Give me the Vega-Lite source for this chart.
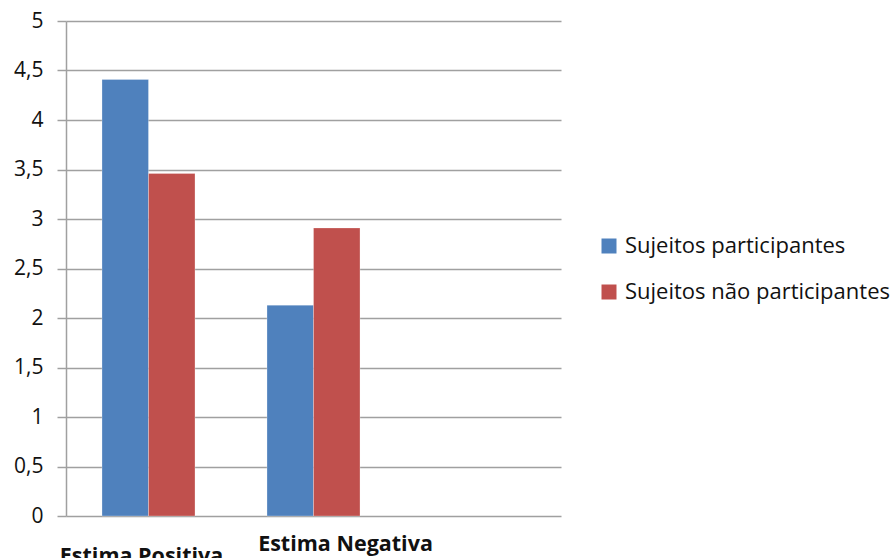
{
  "$schema": "https://vega.github.io/schema/vega-lite/v6.json",
  "width": 495,
  "height": 495,
  "autosize": "none",
  "padding": {"left": 66, "top": 21, "right": 333, "bottom": 42},
  "background": "#ffffff",
  "config": {
    "view": {"stroke": null},
    "font": "Open Sans"
  },
  "data": {
    "values": [
      {"categoria": "Estima Positiva", "grupo": "Sujeitos participantes", "valor": 4.41},
      {"categoria": "Estima Positiva", "grupo": "Sujeitos não participantes", "valor": 3.46},
      {"categoria": "Estima Negativa", "grupo": "Sujeitos participantes", "valor": 2.13},
      {"categoria": "Estima Negativa", "grupo": "Sujeitos não participantes", "valor": 2.91}
    ]
  },
  "mark": {"type": "bar", "stroke": "#ffffff", "strokeOpacity": 0.35, "strokeWidth": 0.8},
  "encoding": {
    "x": {
      "field": "categoria",
      "type": "nominal",
      "sort": null,
      "scale": {"domain": ["Estima Positiva", "Estima Negativa", " "], "paddingInner": 0, "paddingOuter": 0},
      "axis": {
        "title": null,
        "domain": false,
        "ticks": false,
        "labelAngle": 0,
        "labelFont": "Open Sans",
        "labelFontWeight": "bold",
        "labelFontSize": 21.5,
        "labelColor": "#111111",
        "labelBaseline": "alphabetic",
        "labelOffset": {"condition": {"test": "datum.value === 'Estima Negativa'", "value": 32}, "value": -7},
        "labelPadding": {"condition": {"test": "datum.value === 'Estima Negativa'", "value": 34}, "value": 46}
      }
    },
    "xOffset": {
      "field": "grupo",
      "type": "nominal",
      "sort": ["Sujeitos participantes", "Sujeitos não participantes"],
      "scale": {"paddingInner": 0, "paddingOuter": 0.774}
    },
    "y": {
      "field": "valor",
      "type": "quantitative",
      "scale": {"domain": [0, 5], "nice": false},
      "axis": {
        "title": null,
        "values": [0, 0.5, 1, 1.5, 2, 2.5, 3, 3.5, 4, 4.5, 5],
        "labelExpr": "replace(toString(datum.value), '.', ',')",
        "labelFont": "Open Sans",
        "labelFontSize": 21,
        "labelColor": "#111111",
        "labelPadding": 14,
        "tickSize": 9,
        "tickColor": "#a0a0a0",
        "tickWidth": 1.5,
        "domainColor": "#a0a0a0",
        "domainWidth": 1.5,
        "grid": true,
        "gridColor": "#a0a0a0",
        "gridWidth": 1.5
      }
    },
    "color": {
      "field": "grupo",
      "type": "nominal",
      "sort": ["Sujeitos participantes", "Sujeitos não participantes"],
      "scale": {"domain": ["Sujeitos participantes", "Sujeitos não participantes"], "range": ["#4f81bd", "#c0504d"]},
      "legend": {
        "title": null,
        "orient": "none",
        "legendX": 532,
        "legendY": 214,
        "padding": 0,
        "symbolType": "square",
        "symbolSize": 225,
        "symbolStrokeWidth": 0,
        "labelFont": "Open Sans",
        "labelFontSize": 22,
        "labelColor": "#111111",
        "labelOffset": 5,
        "rowPadding": 24,
        "labelLimit": 400
      }
    }
  }
}
